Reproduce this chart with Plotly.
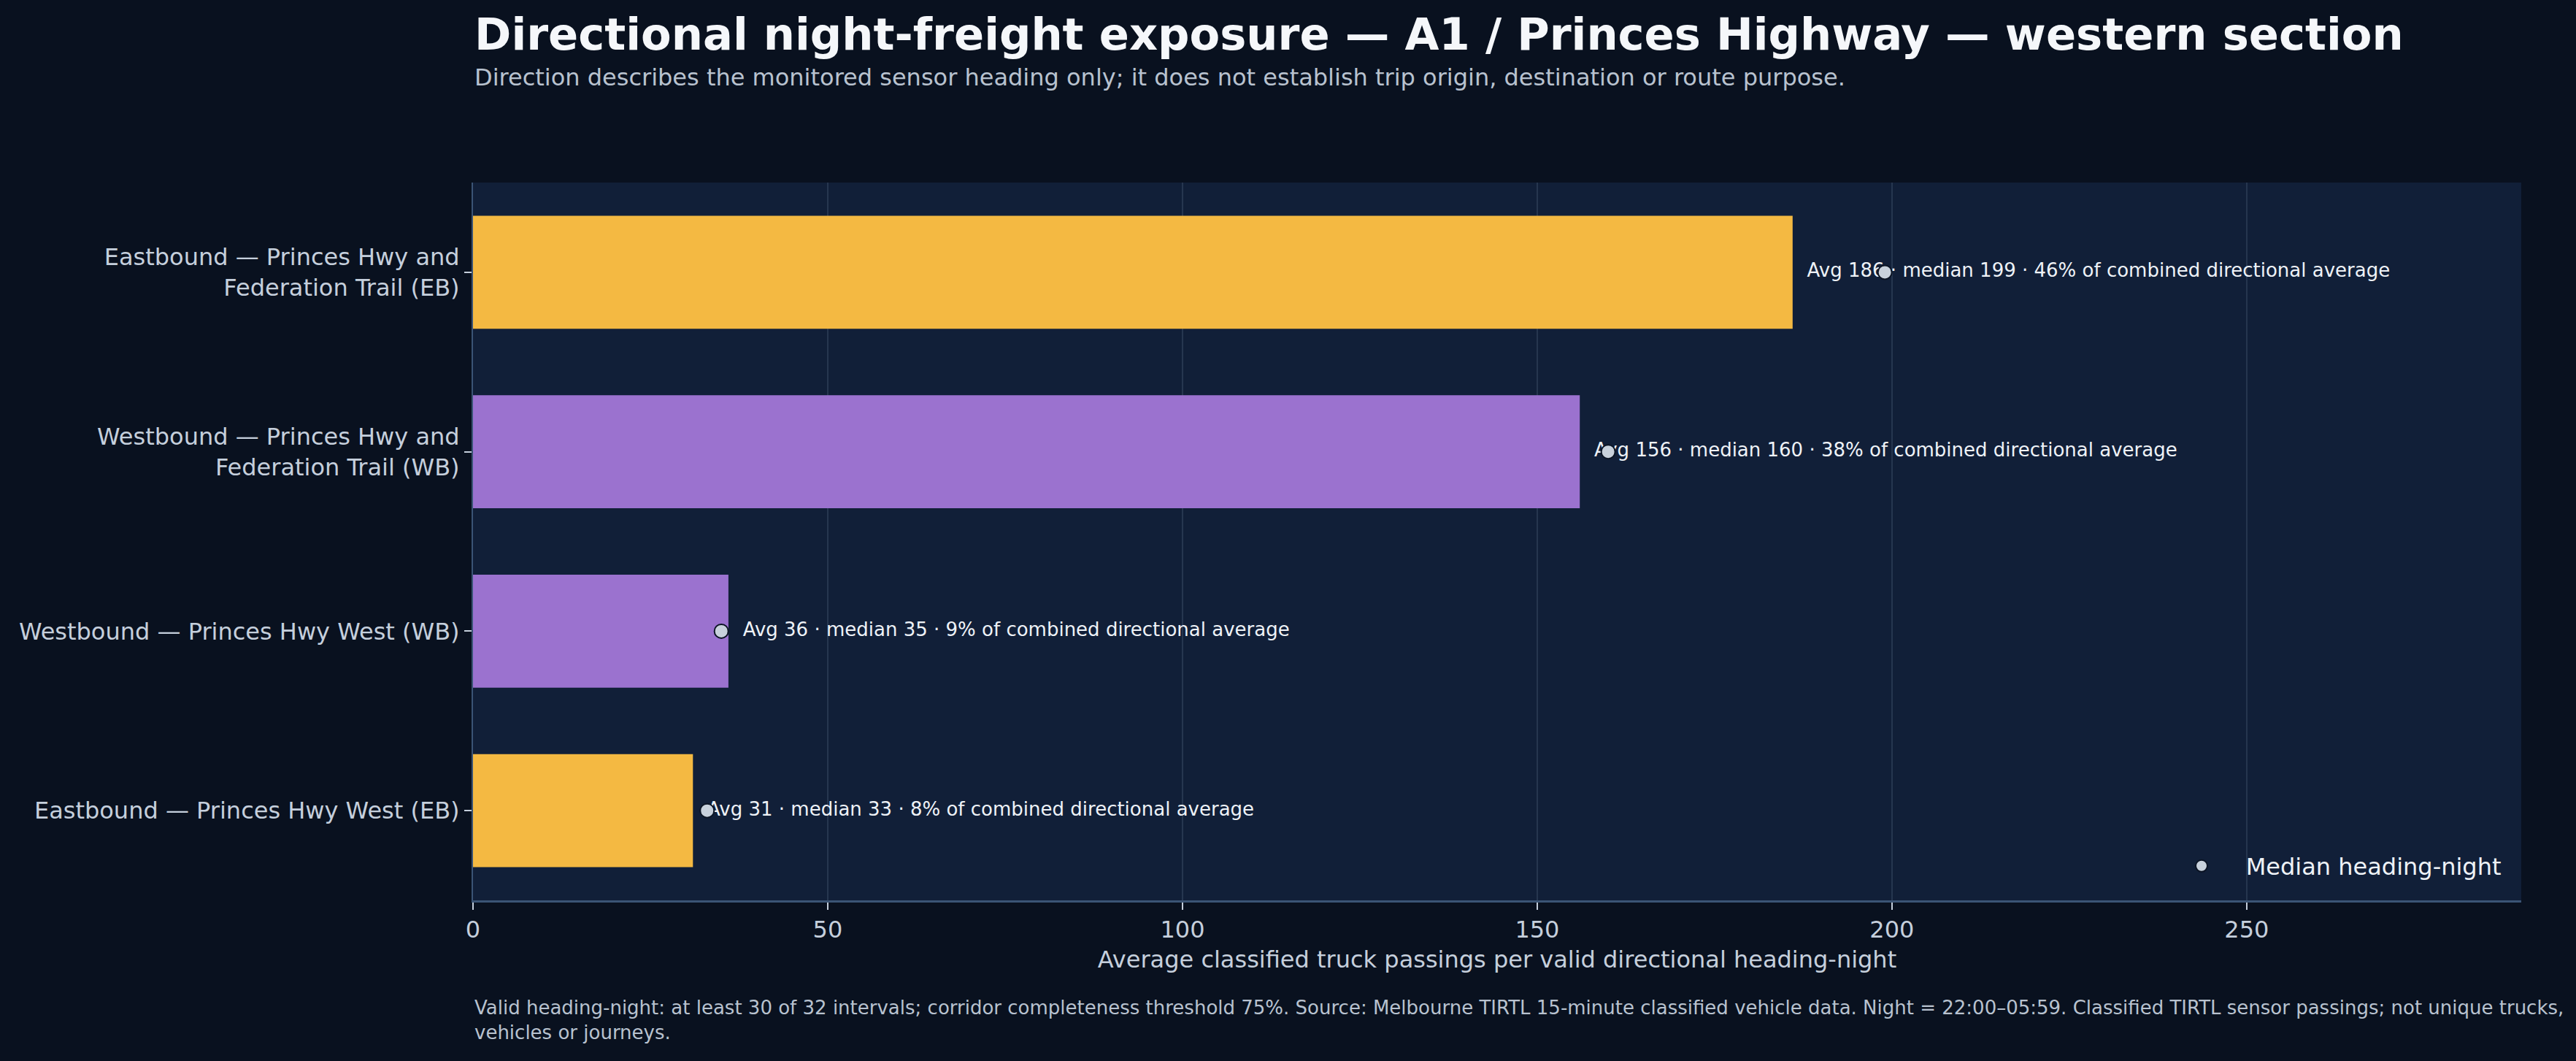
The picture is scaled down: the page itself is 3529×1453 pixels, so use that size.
import plotly.graph_objects as go

# ---- data ----
categories = [
    "Eastbound — Princes Hwy and<br>Federation Trail (EB)",
    "Westbound — Princes Hwy and<br>Federation Trail (WB)",
    "Westbound — Princes Hwy West (WB)",
    "Eastbound — Princes Hwy West (EB)",
]
directions = ["EB", "WB", "WB", "EB"]
avg_values = [186, 156, 36, 31]
median_values = [199, 160, 35, 33]
share_pct = [46, 38, 9, 8]
x_ticks = [0, 50, 100, 150, 200, 250]

# ---- styles ----
PAPER = "#09111f"
PLOT = "#111f38"
COLORS = {"EB": "#f4b942", "WB": "#9b72cf"}
bar_colors = [COLORS[d] for d in directions]
FONT = "DejaVu Sans"

W, H = 3529, 1453
ML, MR, MT, MB = 648, 75, 250, 220
PH = H - MT - MB

labels = [f"Avg {a} · median {m} · {p}% of combined directional average"
          for a, m, p in zip(avg_values, median_values, share_pct)]

fig = go.Figure()
fig.add_trace(go.Bar(
    y=categories, x=avg_values, orientation="h",
    marker=dict(color=bar_colors, line=dict(width=0)),
    width=0.63, showlegend=False, hoverinfo="skip",
))
# value labels (drawn under the median markers)
fig.add_trace(go.Scatter(
    y=categories, x=avg_values, mode="markers+text",
    text=labels, textposition="middle right",
    textfont=dict(family=FONT, size=26, color="#eef2f7"),
    marker=dict(size=30, color="rgba(0,0,0,0)"),
    showlegend=False, hoverinfo="skip", cliponaxis=False,
))
fig.add_trace(go.Scatter(
    y=categories, x=median_values, mode="markers",
    name="\u00a0\u00a0\u00a0\u00a0Median heading-night",
    marker=dict(size=19, color="#c8d1dc", line=dict(color="#0b1424", width=2)),
    cliponaxis=False,
))

fig.update_layout(
    width=W, height=H, autosize=False,
    paper_bgcolor=PAPER, plot_bgcolor=PLOT,
    margin=dict(l=ML, r=MR, t=MT, b=MB),
    font=dict(family=FONT, color="#c5cfdc"),
    bargap=0.37,
    legend=dict(
        x=1 - 22 / (W - ML - MR), y=47 / PH, xanchor="right", yanchor="middle",
        bgcolor="rgba(0,0,0,0)", borderwidth=0,
        font=dict(family=FONT, size=32, color="#eef2f7"),
    ),
    xaxis=dict(
        range=[0, 288.7], tickvals=x_ticks, ticktext=[str(v) for v in x_ticks],
        showgrid=True, gridcolor="#26364f", gridwidth=2,
        zeroline=False, showline=True, linecolor="#3b5475", linewidth=3,
        ticks="outside", ticklen=10, tickwidth=2, tickcolor="#c5cfdc",
        tickfont=dict(family=FONT, size=32, color="#c5cfdc"),
        title=dict(text="Average classified truck passings per valid directional heading-night",
                   font=dict(family=FONT, size=32, color="#c5cfdc"), standoff=12),
    ),
    yaxis=dict(
        autorange="reversed", showgrid=False, zeroline=False,
        showline=True, linecolor="#3b5475", linewidth=2,
        ticks="outside", ticklen=10, tickwidth=2, tickcolor="#c5cfdc",
        tickfont=dict(family=FONT, size=32, color="#c5cfdc"),
    ),
    annotations=[
        dict(text="<b>Directional night-freight exposure — A1 / Princes Highway — western section</b>",
             xref="paper", yref="paper", x=0, y=1 + 203 / PH, xanchor="left", yanchor="middle",
             showarrow=False, font=dict(family=FONT, size=60.7, color="#f5f7fa")),
        dict(text="Direction describes the monitored sensor heading only; it does not establish trip origin, destination or route purpose.",
             xref="paper", yref="paper", x=0, y=1 + 144 / PH, xanchor="left", yanchor="middle",
             showarrow=False, font=dict(family=FONT, size=32, color="#b8c2cf")),
        dict(text="Valid heading-night: at least 30 of 32 intervals; corridor completeness threshold 75%. Source: Melbourne TIRTL 15-minute classified vehicle data. Night = 22:00–05:59. Classified TIRTL sensor passings; not unique trucks,<br>vehicles or journeys.",
             xref="paper", yref="paper", x=0, y=-164 / PH, xanchor="left", yanchor="middle",
             align="left", showarrow=False, font=dict(family=FONT, size=26, color="#b8c2cf")),
    ],
)

fig.write_html("out.html", config={"displayModeBar": False},
               post_script="document.body.style.margin='0';document.body.style.overflow='hidden';")
